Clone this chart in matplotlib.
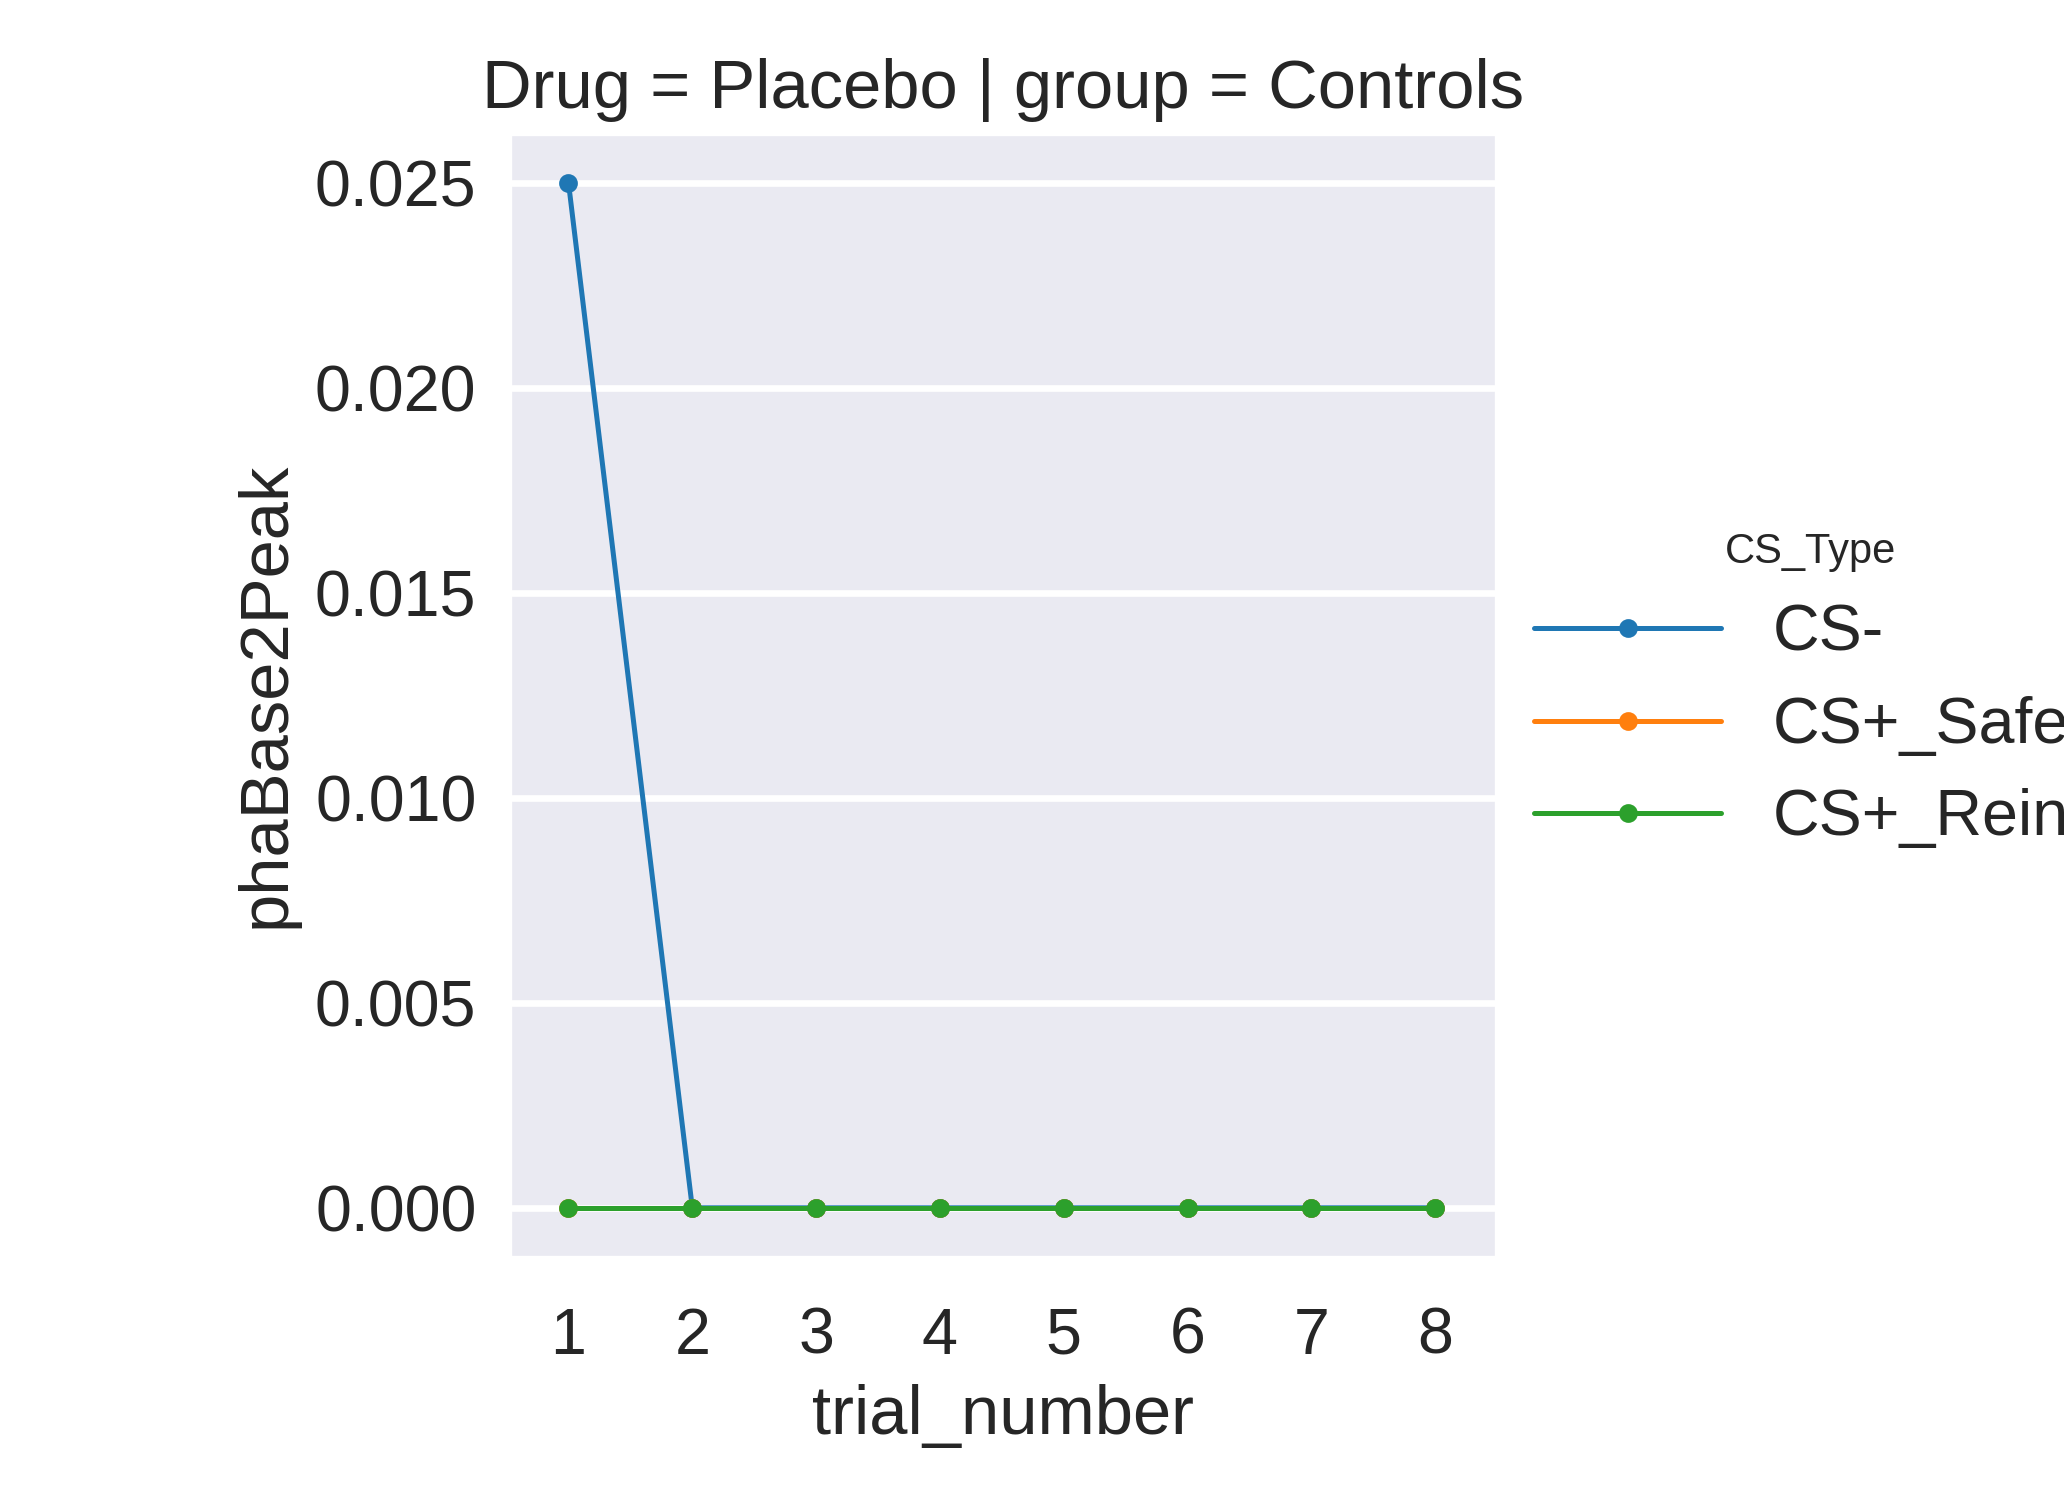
import numpy as np
import matplotlib
matplotlib.use("Agg")
import matplotlib.pyplot as plt
import seaborn as sns

sns.set_style("darkgrid")
plt.rcParams['font.family'] = ['Arial', 'Liberation Sans', 'DejaVu Sans']

trials = [1, 2, 3, 4, 5, 6, 7, 8]
cs_minus = [0.025, 0, 0, 0, 0, 0, 0, 0]
cs_safe = [0, 0, 0, 0, 0, 0, 0, 0]
cs_reinf = [0, 0, 0, 0, 0, 0, 0, 0]
series_names = ['CS-', 'CS+_Safe', 'CS+_Reinf']
colors = ['#1f77b4', '#ff7f0e', '#2ca02c']

fig = plt.figure(figsize=(6.88, 5.0), dpi=300)
ax = fig.add_axes([0.247, 0.162, 0.478, 0.749])

for vals, name, c in zip([cs_minus, cs_safe, cs_reinf], series_names, colors):
    ax.plot(trials, vals, color=c, marker='o', markersize=3.5, linewidth=1.2, label=name)

ax.set_xlim(0.526, 8.495)
ax.set_ylim(-0.0012, 0.0262)
ax.set_xticks(trials)
ax.set_yticks([0, 0.005, 0.01, 0.015, 0.02, 0.025])
ax.set_yticklabels(['0.000', '0.005', '0.010', '0.015', '0.020', '0.025'])
ax.tick_params(labelsize=15.5, length=0)
ax.tick_params(axis='x', pad=12)
ax.tick_params(axis='y', pad=8)
ax.grid(axis='y', linewidth=1.6)
ax.grid(axis='x', visible=False)
ax.set_xlabel('trial_number', fontsize=16.5)
ax.set_ylabel('phaBase2Peak', fontsize=16.5)
ax.set_title('Drug = Placebo | group = Controls', fontsize=16.5)

leg = fig.legend(loc='center left', bbox_to_anchor=(0.715, 0.54), frameon=False,
                 fontsize=15.5, title='CS_Type', title_fontsize=10, handlelength=2.9)

fig.savefig('out.png', dpi=300)
